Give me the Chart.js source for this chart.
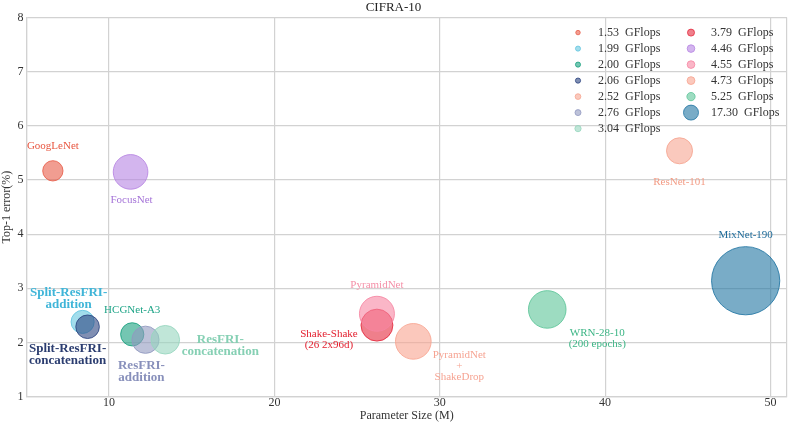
<!DOCTYPE html>
<html>
<head>
<meta charset="utf-8">
<script src="https://cdn.jsdelivr.net/npm/chart.js@4.4.1/dist/chart.umd.min.js"></script>
<style>
  html, body { margin: 0; padding: 0; background: #fff; }
  #wrap { width: 789px; height: 426px; position: relative; }
</style>
</head>
<body>
<div id="wrap"><canvas id="bubbleChart"></canvas></div>
<script>
/* ============================================================
   DATA
   ============================================================ */

const models   = ['GoogLeNet', 'Split-ResFRI-addition', 'HCGNet-A3', 'Split-ResFRI-concatenation',
                  'ResNet-101', 'ResFRI-addition', 'ResFRI-concatenation', 'Shake-Shake',
                  'FocusNet', 'PyramidNet', 'PyramidNet+ShakeDrop', 'WRN-28-10', 'MixNet-190'];
const paramsM  = [6.6, 8.4, 11.4, 8.7, 44.5, 12.2, 13.4, 26.2, 11.3, 26.2, 28.4, 36.5, 48.5];
const top1Err  = [5.17, 2.38, 2.15, 2.29, 5.54, 2.05, 2.05, 2.32, 5.15, 2.53, 2.02, 2.61, 3.14];
const gflops   = [1.53, 1.99, 2.00, 2.06, 2.52, 2.76, 3.04, 3.79, 4.46, 4.55, 4.73, 5.25, 17.30];
const xTicks   = [10, 20, 30, 40, 50];

// text drawn beside each bubble (multi-line where needed)
const labelLines = [
  ['GoogLeNet'], ['Split-ResFRI-', 'addition'], ['HCGNet-A3'], ['Split-ResFRI-', 'concatenation'],
  ['ResNet-101'], ['ResFRI-', 'addition'], ['ResFRI-', 'concatenation'], ['Shake-Shake', '(26 2x96d)'],
  ['FocusNet'], ['PyramidNet'], ['PyramidNet', '+', 'ShakeDrop'], ['WRN-28-10', '(200 epochs)'], ['MixNet-190'],
];

/* ============================================================
   STYLE
   ============================================================ */

const SERIF = "'Liberation Serif', 'Times New Roman', serif";

const baseRGB = [
  [232, 92, 72], [100, 198, 224], [24, 160, 126], [44, 68, 128],
  [246, 165, 145], [145, 153, 192], [150, 214, 190], [228, 42, 62],
  [182, 132, 226], [246, 134, 162], [248, 164, 144], [92, 196, 152], [32, 116, 162],
];
const textColors = ['#e8553f', '#3fb5d8', '#1ea487', '#2b3d70', '#f39c85', '#8890bb', '#86d0b4',
                    '#e3202f', '#a574d8', '#f590a8', '#f6a493', '#3cb585', '#1e6c9b'];
const labelBold  = [false, true, false, true, false, true, true, false, false, false, false, false, false];
// [dx, dy of first line] in px from bubble centre
const labelOffsets = [
  [0, -25], [-14, -29], [0, -24], [-20, 22], [0, 31], [-4, 26], [55, 0], [-48, 9],
  [1, 28], [0, -29], [46, 14], [50, 24], [0, -46],
];

const rgba = (c, a) => `rgba(${c[0]},${c[1]},${c[2]},${a})`;
const bubbleR  = g => 8.2 * Math.sqrt(g);
const legendR  = g => 1.8 * Math.sqrt(g);

/* ============================================================
   PLUGINS
   ============================================================ */

const bubbleLabels = {
  id: 'bubbleLabels',
  afterDatasetsDraw(chart) {
    const { ctx, scales: { x, y } } = chart;
    ctx.save();
    ctx.textAlign = 'center';
    ctx.textBaseline = 'middle';
    models.forEach((m, i) => {
      const px = x.getPixelForValue(paramsM[i]) + labelOffsets[i][0];
      const py = y.getPixelForValue(top1Err[i]) + labelOffsets[i][1];
      const bold = labelBold[i];
      ctx.font = (bold ? 'bold 13px ' : '11px ') + SERIF;
      ctx.fillStyle = textColors[i];
      const lh = bold ? 12 : 11;
      labelLines[i].forEach((t, k) => ctx.fillText(t, px, py + k * lh));
    });
    ctx.restore();
  },
};

const sizeLegend = {
  id: 'sizeLegend',
  afterDraw(chart) {
    const { ctx, chartArea } = chart;
    const order = gflops.map((g, i) => i).sort((a, b) => gflops[a] - gflops[b]);
    const colX = [chartArea.right - 209, chartArea.right - 96];
    const rows = 7;
    ctx.save();
    ctx.font = '12px ' + SERIF;
    ctx.textBaseline = 'middle';
    ctx.textAlign = 'left';
    order.forEach((i, k) => {
      const cx = colX[Math.floor(k / rows)];
      const cy = chartArea.top + 15 + (k % rows) * 16;
      ctx.beginPath();
      ctx.arc(cx, cy, legendR(gflops[i]), 0, Math.PI * 2);
      ctx.fillStyle = rgba(baseRGB[i], 0.6);
      ctx.fill();
      ctx.lineWidth = 1;
      ctx.strokeStyle = rgba(baseRGB[i], 0.8);
      ctx.stroke();
      ctx.fillStyle = '#333';
      ctx.fillText(gflops[i].toFixed(2) + '  GFlops', cx + 20, cy);
    });
    ctx.restore();
  },
};

/* ============================================================
   CHART
   ============================================================ */

Chart.defaults.font.family = SERIF;
Chart.defaults.color = '#333';

new Chart(document.getElementById('bubbleChart'), {
  type: 'bubble',
  data: {
    datasets: models.map((m, i) => ({
      label: m,
      data: [{ x: paramsM[i], y: top1Err[i], r: bubbleR(gflops[i]) }],
      backgroundColor: rgba(baseRGB[i], 0.6),
      borderColor: rgba(baseRGB[i], 0.85),
      borderWidth: 1,
      order: -i,
    })),
  },
  options: {
    responsive: true,
    maintainAspectRatio: false,
    animation: false,
    layout: { autoPadding: false, padding: { left: 0, right: 2, top: 0, bottom: 0 } },
    plugins: {
      legend: { display: false },
      tooltip: { enabled: false },
      title: {
        display: true,
        text: 'CIFRA-10',
        color: '#222',
        font: { size: 13, weight: 'normal' },
        padding: { top: 0, bottom: 2 },
      },
    },
    scales: {
      x: {
        type: 'linear',
        min: 5,
        max: 51,
        afterBuildTicks: s => { s.ticks = [5, ...xTicks, 51].map(v => ({ value: v })); },
        grid: { color: '#d2d2d2', lineWidth: 1.2, drawTicks: false },
        border: { color: '#d2d2d2', width: 1.2 },
        ticks: {
          padding: 0,
          font: { size: 12, lineHeight: 1 },
          callback: v => xTicks.includes(v) ? v : '',
        },
        title: { display: true, text: 'Parameter Size (M)', font: { size: 12 }, padding: { top: 0, bottom: 3 } },
      },
      y: {
        type: 'linear',
        min: 1,
        max: 8,
        grid: { color: '#d2d2d2', lineWidth: 1.2, drawTicks: false },
        border: { color: '#d2d2d2', width: 1.2 },
        ticks: { stepSize: 1, padding: 3, font: { size: 12 } },
        title: { display: true, text: 'Top-1 error(%)', font: { size: 12 }, padding: 0 },
      },
    },
  },
  plugins: [bubbleLabels, sizeLegend],
});
</script>
</body>
</html>
